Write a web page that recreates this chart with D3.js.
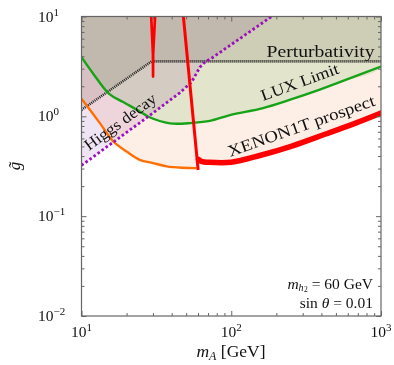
<!DOCTYPE html>
<html>
<head>
<meta charset="utf-8">
<script src="https://cdn.jsdelivr.net/npm/d3@7/dist/d3.min.js"></script>
<style>
  html, body { margin: 0; padding: 0; background: #fff; }
  svg { display: block; }
  text { font-family: "Liberation Serif", "DejaVu Serif", serif; fill: #111; }
</style>
</head>
<body>
<svg id="chart" width="394" height="365"></svg>
<script>
// Parameter space in (m_A, g~), log-log
const xTicks = [10, 100, 1000];
const xTickExp = ["1", "2", "3"];
const yTicks = [0.01, 0.1, 1, 10];
const yTickExp = ["\u22122", "\u22121", "0", "1"];

// Perturbativity bound (black dotted)
const perturbM = [10, 29.4, 1000];
const perturbG = [1.16, 3.55, 3.55];

// Higgs decay bound (purple dotted)
const higgsM = [10, 27.9, 45.3, 54.3, 61.7, 66.6, 75.6, 186];
const higgsG = [0.322, 0.995, 1.72, 2.2, 3.1, 3.48, 3.91, 10];

// LUX limit (green)
const luxM = [10, 12, 15.3, 19, 24.5, 28, 39, 55, 72, 98, 163, 245, 390, 530, 1000];
const luxG = [3.91, 2.66, 1.68, 1.39, 1.12, 0.99, 0.85, 0.86, 0.9, 1.03, 1.21, 1.46, 1.85, 2.2, 3.15];

// XENON1T prospect, low-mass branch (orange)
const xenonLowM = [10, 13.3, 16.3, 20, 24.5, 30.1, 37, 47, 58.6];
const xenonLowG = [1.5, 0.85, 0.56, 0.445, 0.367, 0.34, 0.315, 0.305, 0.303];

// XENON1T prospect, high-mass branch (thick red)
const xenonHighM = [60.5, 64, 70, 100, 155, 257, 427, 697, 1000];
const xenonHighG = [0.37, 0.352, 0.347, 0.347, 0.405, 0.507, 0.665, 0.871, 1.08];

// Red contours: resonance line and narrow loop
const resM = [47.9, 60.1];
const resG = [10, 0.29];
const loopM = [29.2, 30.0, 30.05, 30.1, 31.0];
const loopG = [10, 4.2, 2.5, 4.2, 10];

const W = 394, H = 365;
const x = d3.scaleLog().domain([10, 1000]).range([81.5, 381]);
const y = d3.scaleLog().domain([0.01, 10]).range([316, 16.5]);

const svg = d3.select("#chart");
svg.append("rect").attr("width", W).attr("height", H).attr("fill", "#fff");

svg.append("defs").append("clipPath").attr("id", "plot-clip")
  .append("rect")
  .attr("x", x.range()[0]).attr("y", y.range()[1])
  .attr("width", x.range()[1] - x.range()[0])
  .attr("height", y.range()[0] - y.range()[1]);

const zip = (ms, gs) => ms.map((m, i) => [m, gs[i]]);
const line = d3.line().x(d => x(d[0])).y(d => y(d[1]));
const smooth = d3.line().x(d => x(d[0])).y(d => y(d[1])).curve(d3.curveCatmullRom.alpha(0.5));

const plot = svg.append("g").attr("clip-path", "url(#plot-clip)");
const fills = plot.append("g").style("isolation", "isolate");

const [xMin, xMax] = x.domain();
const [yMin, yMax] = y.domain();

// Excluded regions, blended multiplicatively so overlaps darken
const regions = [
  { pts: zip(higgsM, higgsG).concat([[xMin, yMax]]), color: "#efe4f3", curve: line },
  { pts: zip(xenonLowM, xenonLowG).concat(zip(xenonHighM, xenonHighG), [[xMax, yMax], [xMin, yMax]]), color: "#fdefe6", curve: smooth },
  { pts: zip(luxM, luxG).concat([[xMax, yMax], [xMin, yMax]]), color: "#e4f4e3", curve: smooth },
  { pts: zip(perturbM, perturbG).concat([[xMax, yMax], [xMin, yMax]]), color: "#e9e6e4", curve: line }
];
regions.forEach(r => {
  fills.append("path")
    .attr("d", r.curve(r.pts) + "Z")
    .attr("fill", r.color)
    .style("mix-blend-mode", "multiply");
});

// Boundary lines
plot.append("path").attr("d", line(zip(perturbM, perturbG)))
  .attr("fill", "none").attr("stroke", "#222").attr("stroke-width", 2.6)
  .attr("stroke-dasharray", "1,1");

plot.append("path").attr("d", smooth(zip(luxM, luxG)))
  .attr("fill", "none").attr("stroke", "#17a317").attr("stroke-width", 2.4);

plot.append("path").attr("d", smooth(zip(xenonLowM, xenonLowG)))
  .attr("fill", "none").attr("stroke", "#ff6e00").attr("stroke-width", 2.4);

plot.append("path").attr("d", line(zip(higgsM, higgsG)))
  .attr("fill", "none").attr("stroke", "#9a10b8").attr("stroke-width", 2.8)
  .attr("stroke-dasharray", "2.6,2.4");

plot.append("path").attr("d", smooth(zip(xenonHighM, xenonHighG)))
  .attr("fill", "none").attr("stroke", "#ff0000").attr("stroke-width", 5.5)
  .attr("stroke-linejoin", "round").attr("stroke-linecap", "round");

plot.append("path").attr("d", line(zip(resM, resG)))
  .attr("fill", "none").attr("stroke", "#ff0000").attr("stroke-width", 3);

plot.append("path").attr("d", line(zip(loopM, loopG)))
  .attr("fill", "none").attr("stroke", "#ff0000").attr("stroke-width", 2.7)
  .attr("stroke-linejoin", "round").attr("stroke-linecap", "round");

// Axes: inward ticks on all four sides
const minor = [];
[10, 100].forEach(d => { for (let k = 2; k <= 9; k++) minor.push(d * k); });
const minorY = [];
[0.01, 0.1, 1].forEach(d => { for (let k = 2; k <= 9; k++) minorY.push(d * k); });

const axColor = "#666";
function styleAxis(g) {
  g.select(".domain").remove();
  g.selectAll(".tick line").attr("stroke", axColor).attr("stroke-width", 1);
  g.selectAll(".tick text").remove();
}
const x0 = x.range()[0], x1 = x.range()[1], y0 = y.range()[0], y1 = y.range()[1];

[[d3.axisBottom, y0], [d3.axisTop, y1]].forEach(([ax, pos]) => {
  svg.append("g").attr("transform", `translate(0,${pos})`)
    .call(ax(x).tickValues(xTicks).tickSize(-5).tickFormat("")).call(styleAxis);
  svg.append("g").attr("transform", `translate(0,${pos})`)
    .call(ax(x).tickValues(minor).tickSize(-3).tickFormat("")).call(styleAxis);
});
[[d3.axisLeft, x0], [d3.axisRight, x1]].forEach(([ax, pos]) => {
  svg.append("g").attr("transform", `translate(${pos},0)`)
    .call(ax(y).tickValues(yTicks).tickSize(-5).tickFormat("")).call(styleAxis);
  svg.append("g").attr("transform", `translate(${pos},0)`)
    .call(ax(y).tickValues(minorY).tickSize(-3).tickFormat("")).call(styleAxis);
});

svg.append("rect")
  .attr("x", x0).attr("y", y1).attr("width", x1 - x0).attr("height", y0 - y1)
  .attr("fill", "none").attr("stroke", axColor).attr("stroke-width", 1.2);

// Tick labels with superscript exponents
function powerLabel(sel, exp) {
  sel.append("tspan").text("10");
  sel.append("tspan").attr("dy", -6).attr("font-size", 11).text(exp);
}
xTicks.forEach((v, i) => {
  svg.append("text").attr("x", x(v)).attr("y", y0 + 21)
    .attr("text-anchor", "middle").attr("font-size", 15.5)
    .call(powerLabel, xTickExp[i]);
});
yTicks.forEach((v, i) => {
  svg.append("text").attr("x", 38).attr("y", y(v) + 5)
    .attr("font-size", 15.5)
    .call(powerLabel, yTickExp[i]);
});

// Axis titles
const xt = svg.append("text").attr("x", 231).attr("y", 357)
  .attr("text-anchor", "middle").attr("font-size", 17.5);
xt.append("tspan").attr("font-style", "italic").text("m");
xt.append("tspan").attr("font-style", "italic").attr("font-size", 12).attr("dy", 3).text("A");
xt.append("tspan").attr("dy", -3).text(" [GeV]");

svg.append("text").attr("transform", "translate(20,166) rotate(-90)")
  .attr("text-anchor", "middle").attr("font-size", 17).attr("font-style", "italic")
  .text("g\u0303");

// Region labels
svg.append("text").attr("x", 266.5).attr("y", 56.5).attr("font-size", 16)
  .attr("textLength", 108).attr("lengthAdjust", "spacingAndGlyphs")
  .text("Perturbativity");

svg.append("text").attr("transform", "translate(263,101) rotate(-20)")
  .attr("font-size", 16).attr("textLength", 82).attr("lengthAdjust", "spacingAndGlyphs")
  .text("LUX Limit");

svg.append("text").attr("transform", "translate(230,157) rotate(-19.5)")
  .attr("font-size", 16.5).attr("textLength", 155).attr("lengthAdjust", "spacingAndGlyphs")
  .text("XENON1T prospect");

svg.append("text").attr("transform", "translate(89,151) rotate(-36)")
  .attr("font-size", 16).attr("textLength", 85).attr("lengthAdjust", "spacingAndGlyphs")
  .text("Higgs decay");

// Benchmark parameters
const note1 = svg.append("text").attr("x", 373).attr("y", 288.5)
  .attr("text-anchor", "end").attr("font-size", 15.5);
note1.append("tspan").attr("font-style", "italic").text("m");
note1.append("tspan").attr("font-style", "italic").attr("font-size", 10).attr("dy", 2.5).text("h");
note1.append("tspan").attr("font-size", 7.5).attr("dx", 0.5).attr("dy", 1).text("2");
note1.append("tspan").attr("dy", -3.5).text(" = 60 GeV");

const note2 = svg.append("text").attr("x", 373).attr("y", 307.5)
  .attr("text-anchor", "end").attr("font-size", 15.5);
note2.append("tspan").text("sin ");
note2.append("tspan").attr("font-style", "italic").text("\u03b8");
note2.append("tspan").text(" = 0.01");
</script>
</body>
</html>
